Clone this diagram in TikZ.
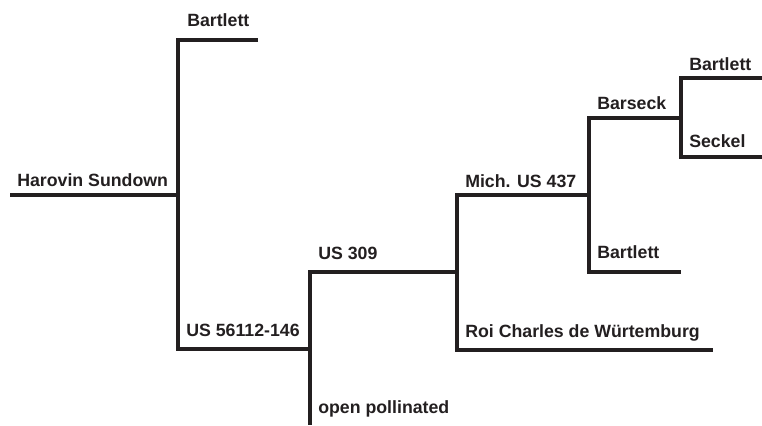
\documentclass[tikz,border=0pt]{standalone}
\usepackage{fontspec}
\setmainfont{Liberation Sans}
\definecolor{ink}{HTML}{231F20}
\tikzset{
  lbl/.style={anchor=base west, inner sep=0pt, text=ink,
    font=\bfseries\fontsize{13.3}{15}\selectfont},
  branch/.style={line width=3pt, draw=ink, line cap=butt, line join=miter},
}

\begin{document}
\begin{tikzpicture}[x=0.75pt,y=-0.75pt]
\useasboundingbox (0,0) rectangle (762,425);
% line ends
\coordinate (root) at (10,195);
\coordinate (fork1) at (178,195);
\coordinate (bart1) at (258,40);
\coordinate (us56) at (310,349);
\coordinate (us309) at (457,272);
\coordinate (open) at (310,425);
\coordinate (mich) at (589,195);
\coordinate (roi) at (713,350);
\coordinate (barseck) at (681,118);
\coordinate (bart2) at (681,272);
\coordinate (bart3) at (762,78);
\coordinate (seckel) at (762,157);
% pedigree lines
\draw[branch] (root) -- (fork1);
\draw[branch] (bart1) -- (bart1 -| fork1) -- (us56 -| fork1) -- (us56);
\draw[branch] (us309) -- (us309 -| us56) -- (open);
\draw[branch] (mich) -- (mich -| us309) -- (roi -| us309) -- (roi);
\draw[branch] (barseck) -- (barseck -| mich) -- (bart2 -| mich) -- (bart2);
\draw[branch] (bart3) -- (bart3 -| barseck) -- (seckel -| barseck) -- (seckel);
% names
\node[lbl] (harovinlbl) at (17,186) {Harovin Sundown};
\node[lbl] (bart1lbl) at (187,26) {Bartlett};
\node[lbl] (us56lbl) at (186,336) {US 56112-146};
\node[lbl] (us309lbl) at (318,259) {US 309};
\node[lbl] (openlbl) at (318,413) {open pollinated};
\node[lbl] (michlbl) at (465,187) {Mich. US 437};
\node[lbl] (roilbl) at (465,337) {Roi Charles de Würtemburg};
\node[lbl] (barsecklbl) at (597,109) {Barseck};
\node[lbl] (bart2lbl) at (597,258) {Bartlett};
\node[lbl] (bart3lbl) at (689,70) {Bartlett};
\node[lbl] (seckellbl) at (689,147) {Seckel};
\end{tikzpicture}
\end{document}
